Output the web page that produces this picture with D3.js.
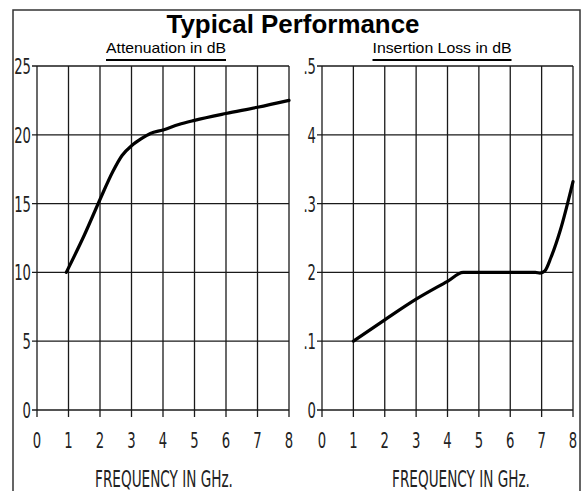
<!DOCTYPE html>
<html>
<head>
<meta charset="utf-8">
<script src="https://cdn.jsdelivr.net/npm/d3@7"></script>
<style>
  body { margin: 0; background: #fff; }
  svg { display: block; }
</style>
</head>
<body>
<div id="chart"></div>
<script>
// values
const freqTicks = [0, 1, 2, 3, 4, 5, 6, 7, 8];
const attenTicks = [0, 5, 10, 15, 20, 25];
const lossTicks = [0, 0.1, 0.2, 0.3, 0.4, 0.5];
const lossTickLabels = ["0", ".1", "2", ".3", "4", ".5"];

const attenFreq = [0.93, 1.5, 2, 2.4, 2.7, 3, 3.3, 3.6, 4, 4.5, 5, 6, 7, 8];
const attenDb = [10, 12.7, 15.3, 17.3, 18.5, 19.2, 19.7, 20.1, 20.35, 20.75, 21.05, 21.55, 22.0, 22.5];

const lossFreq = [1, 2, 3, 4, 4.5, 5, 6, 6.8, 6.95, 7.1, 7.3, 7.6, 8];
const lossDb = [0.1, 0.131, 0.161, 0.187, 0.2, 0.2, 0.2, 0.2, 0.199, 0.202, 0.222, 0.262, 0.332];

const W = 582, H = 491;
const svg = d3.select("#chart").append("svg")
    .attr("width", W)
    .attr("height", H);

// outer frame
svg.append("rect")
    .attr("x", 13).attr("y", 10)
    .attr("width", 567).attr("height", 500)
    .attr("fill", "none")
    .attr("stroke", "#333")
    .attr("stroke-width", 1.5);

svg.append("text")
    .attr("x", 293).attr("y", 33)
    .attr("text-anchor", "middle")
    .attr("font-family", "Liberation Sans, Arial, sans-serif")
    .attr("font-weight", "bold")
    .attr("font-size", 25)
    .attr("textLength", 253)
    .attr("lengthAdjust", "spacingAndGlyphs")
    .text("Typical Performance");

const tickFont = "DejaVu Sans, sans-serif";

function panel(opt) {
    const x = d3.scaleLinear().domain([0, 8]).range([opt.left, opt.right]);
    const y = d3.scaleLinear().domain(opt.yDomain).range([410, 66]);
    const g = svg.append("g");

    // vertical grid + ticks below axis
    g.selectAll(".vg")
        .data(freqTicks)
        .join("line")
        .attr("x1", d => x(d)).attr("x2", d => x(d))
        .attr("y1", y.range()[1]).attr("y2", 417)
        .attr("stroke", "#1a1a1a")
        .attr("stroke-width", 1.3);

    // horizontal grid + ticks left of axis
    g.selectAll(".hg")
        .data(opt.yTicks)
        .join("line")
        .attr("x1", x(0) - 5).attr("x2", x(8))
        .attr("y1", d => y(d)).attr("y2", d => y(d))
        .attr("stroke", "#1a1a1a")
        .attr("stroke-width", 1.3);

    g.selectAll(".xl")
        .data(freqTicks)
        .join("text")
        .attr("transform", d => `translate(${x(d)},448) scale(0.6,1)`)
        .attr("text-anchor", "middle")
        .attr("font-family", tickFont)
        .attr("font-size", 22)
        .attr("fill", "#222")
        .text(d => d);

    g.selectAll(".yl")
        .data(opt.yTicks)
        .join("text")
        .attr("transform", d => `translate(${x(0) - 6},${y(d) + 8}) scale(0.6,1)`)
        .attr("text-anchor", "end")
        .attr("font-family", tickFont)
        .attr("font-size", 22)
        .attr("fill", "#222")
        .text((d, i) => opt.yLabels[i]);

    const xt = g.append("text")
        .attr("text-anchor", "middle")
        .attr("font-family", tickFont)
        .attr("font-size", 23)
        .attr("fill", "#222")
        .text("FREQUENCY IN GHz.");
    const k = 138 / xt.node().getComputedTextLength();
    xt.attr("transform", `translate(${opt.xTitleX},487) scale(${k},1)`);

    // panel heading with underline
    g.append("text")
        .attr("x", opt.headX).attr("y", 53)
        .attr("text-anchor", "middle")
        .attr("font-family", "Liberation Sans, Arial, sans-serif")
        .attr("font-size", 15)
        .attr("textLength", opt.headW)
        .attr("lengthAdjust", "spacingAndGlyphs")
        .text(opt.head);
    g.append("line")
        .attr("x1", opt.headX - opt.headW / 2).attr("x2", opt.headX + opt.headW / 2)
        .attr("y1", 60).attr("y2", 60)
        .attr("stroke", "#000")
        .attr("stroke-width", 2.2);

    const line = d3.line()
        .x((d, i) => x(opt.xs[i]))
        .y(d => y(d))
        .curve(d3.curveMonotoneX);

    g.append("path")
        .datum(opt.ys)
        .attr("fill", "none")
        .attr("stroke", "#000")
        .attr("stroke-width", 3.2)
        .attr("stroke-linecap", "round")
        .attr("stroke-linejoin", "round")
        .attr("d", line);
}

panel({
    left: 37, right: 289,
    yDomain: [0, 25], yTicks: attenTicks, yLabels: attenTicks.map(String),
    xs: attenFreq, ys: attenDb,
    head: "Attenuation in dB", headX: 166, headW: 120, xTitleX: 164
});

panel({
    left: 322, right: 573,
    yDomain: [0, 0.5], yTicks: lossTicks, yLabels: lossTickLabels,
    xs: lossFreq, ys: lossDb,
    head: "Insertion Loss in dB", headX: 442, headW: 139, xTitleX: 461
});
</script>
</body>
</html>
